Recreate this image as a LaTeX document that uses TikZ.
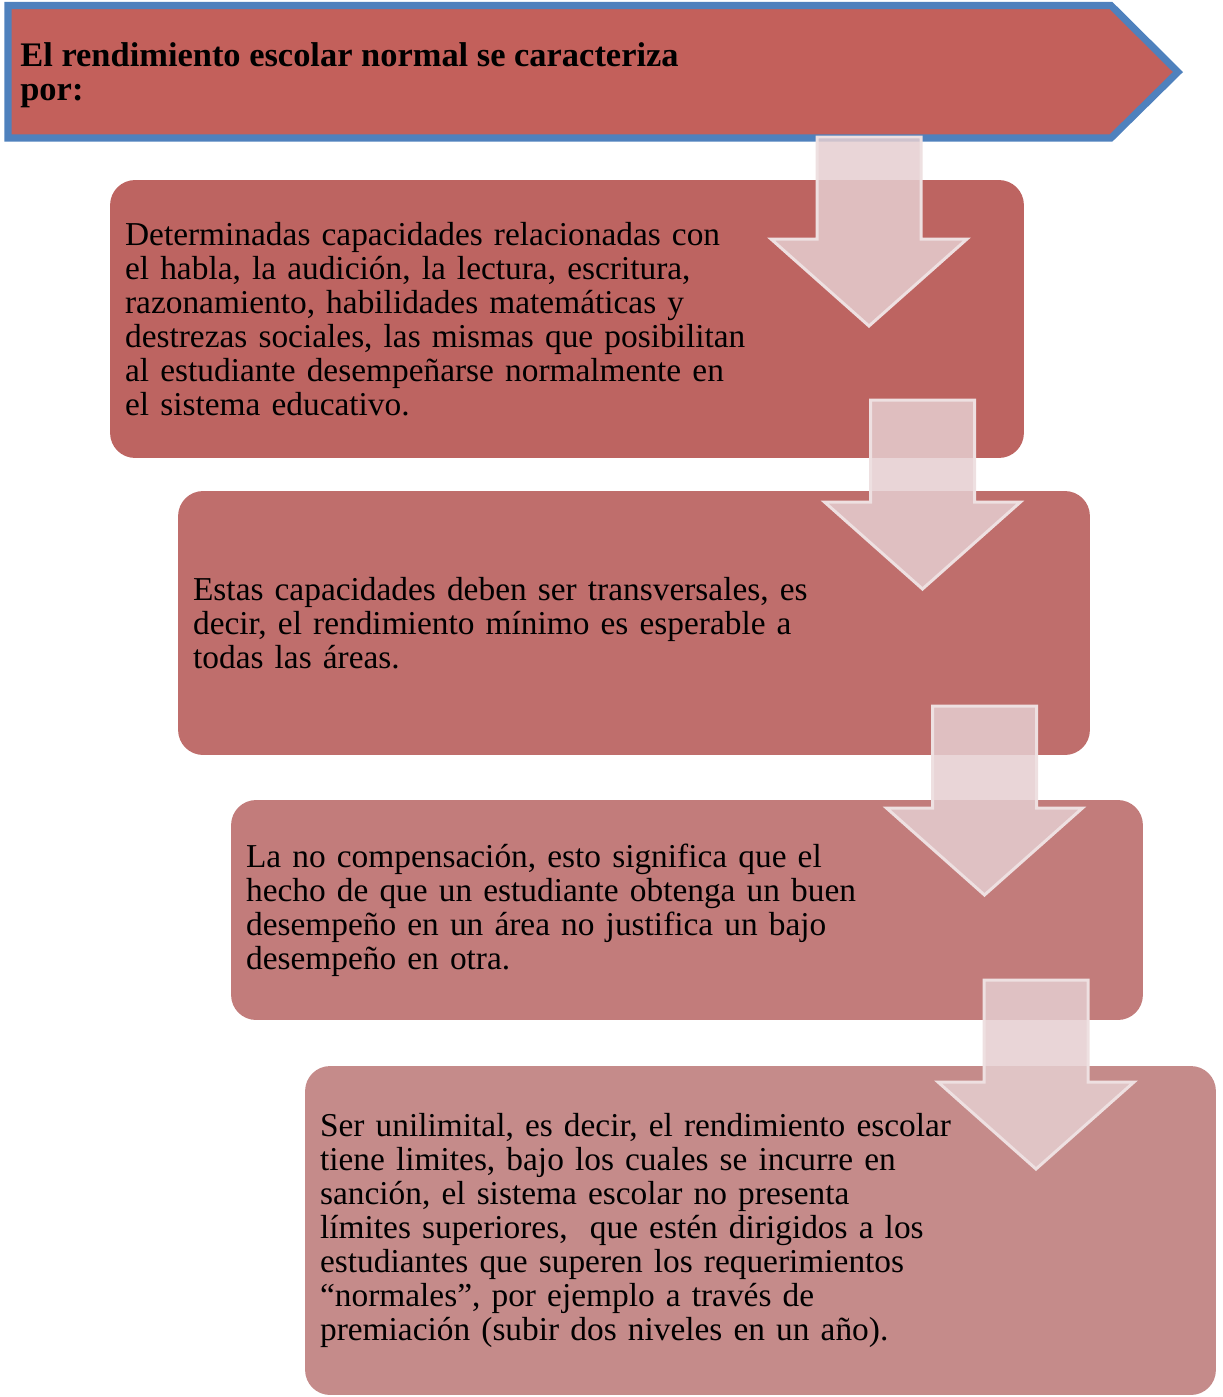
\documentclass[tikz,border=0pt]{standalone}
\usepackage{fontspec}
\setmainfont{Liberation Serif}
\definecolor{hdrred}{RGB}{195,96,91}
\definecolor{hdrblue}{RGB}{79,129,189}
\definecolor{boxa}{RGB}{189,100,97}
\definecolor{boxb}{RGB}{191,110,108}
\definecolor{boxc}{RGB}{194,124,123}
\definecolor{boxd}{RGB}{197,139,138}
\definecolor{arrowpink}{RGB}{229,206,208}
\definecolor{arrowedge}{RGB}{238,224,225}
\tikzset{
  card/.style={rounded corners=0.5cm, inner xsep=0.3cm, inner ysep=0pt, align=left,
    font=\fontsize{19}{19.35}\selectfont},
  pics/downarrow/.style={code={
    \draw[fill=arrowpink, fill opacity=0.85, draw=arrowedge, line width=1.7pt, line join=miter]
      (-52,0) -- (52,0) -- (52,102) -- (98,102) -- (0,189) -- (-98,102) -- (-52,102) -- cycle;
  }}
}
\begin{document}
\begin{tikzpicture}[x=0.02cm,y=-0.02cm]
\useasboundingbox (0,0) rectangle (1223,1397);

\draw[fill=hdrred, draw=hdrblue, line width=4pt] (8,5.5) -- (1111,5.5) -- (1178,72) -- (1111,138) -- (8,138) -- cycle;
\node[anchor=west, inner sep=0pt, align=left, font=\bfseries\fontsize{19.6}{19.35}\selectfont] (hdr) at (20,75)
  {El rendimiento escolar normal se caracteriza\\por:};

\node[card, fill=boxa, minimum width=18.28cm, minimum height=5.56cm, text width=17.68cm] (box1) at (567,319)
  {Determinadas capacidades relacionadas con\\
   el habla, la audición, la lectura, escritura,\\
   razonamiento, habilidades matemáticas y\\
   destrezas sociales, las mismas que posibilitan\\
   al estudiante desempeñarse normalmente en\\
   el sistema educativo.};
\node[card, fill=boxb, minimum width=18.24cm, minimum height=5.28cm, text width=17.64cm] (box2) at (634,623)
  {Estas capacidades deben ser transversales, es\\
   decir, el rendimiento mínimo es esperable a\\
   todas las áreas.};
\node[card, fill=boxc, minimum width=18.24cm, minimum height=4.4cm, text width=17.64cm] (box3) at (687,910)
  {La no compensación, esto significa que el\\
   hecho de que un estudiante obtenga un buen\\
   desempeño en un área no justifica un bajo\\
   desempeño en otra.};
\node[card, fill=boxd, minimum width=18.22cm, minimum height=6.58cm, text width=17.62cm] (box4) at (760.5,1230.5)
  {Ser unilimital, es decir, el rendimiento escolar\\
   tiene limites, bajo los cuales se incurre en\\
   sanción, el sistema escolar no presenta\\
   límites superiores,\ \ que estén dirigidos a los\\
   estudiantes que superen los requerimientos\\
   “normales”, por ejemplo a través de\\
   premiación (subir dos niveles en un año).};

\pic at (869,137) {downarrow};
\pic at (922.5,400) {downarrow};
\pic at (984.5,706) {downarrow};
\pic at (1036,980) {downarrow};
\end{tikzpicture}
\end{document}
